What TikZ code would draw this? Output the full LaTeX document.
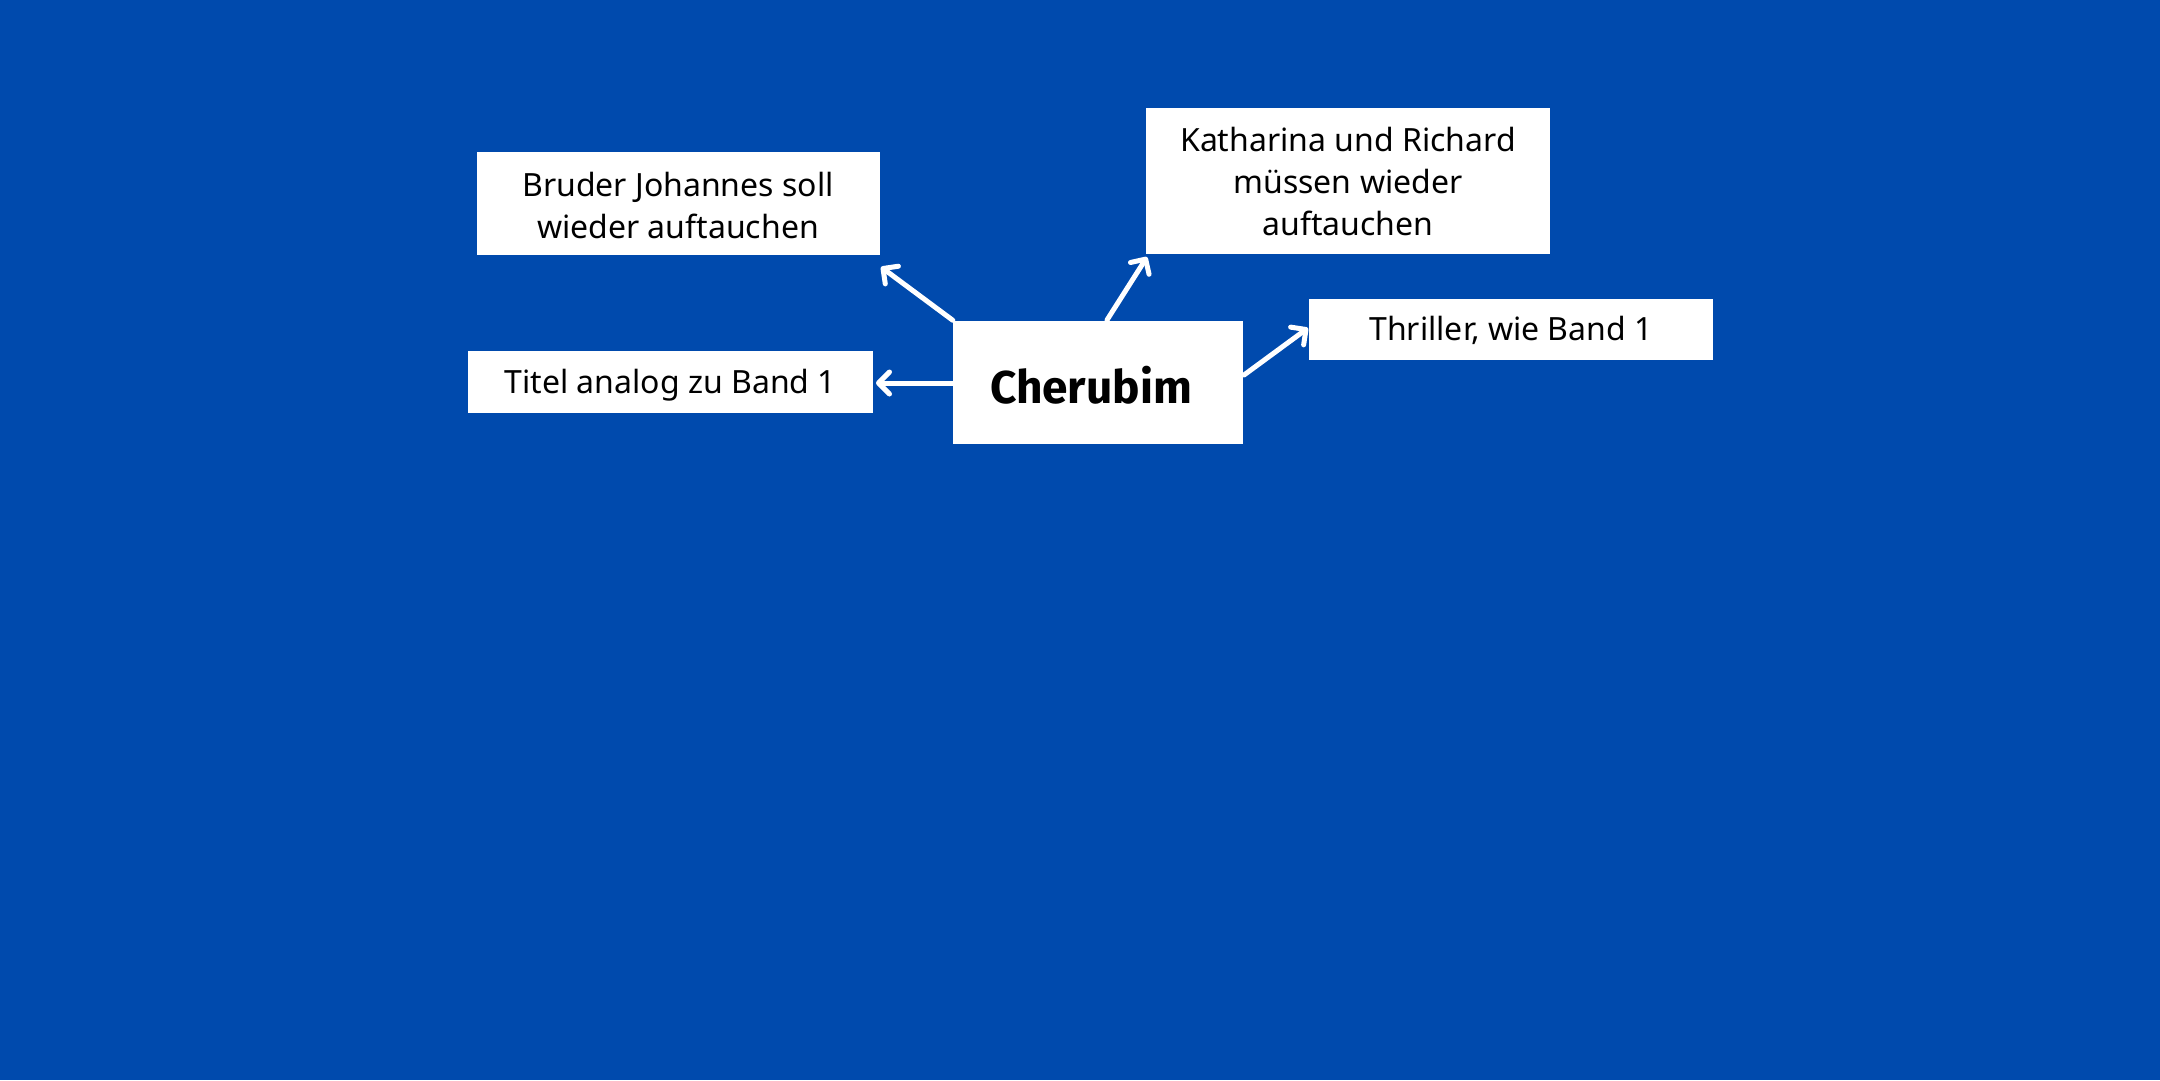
\documentclass[tikz,border=0pt]{standalone}
\usepackage{fontspec}
\setmainfont{Noto Sans}
\newfontfamily\cherfont{Fira Sans}
\usetikzlibrary{arrows.meta}
\definecolor{bg}{RGB}{0,74,173}
\tikzset{
  box/.style={fill=white, draw=none, inner sep=0pt, align=center, text=black,
    font=\fontsize{32}{42}\selectfont},
  arr/.style={draw=white, line width=5pt, line cap=round,
    -{Straight Barb[length=11pt,width=22pt,round]}}
}
\newcommand{\lowerby}[2]{\raisebox{-#1}[\height][\depth]{#2}}
\begin{document}
\begin{tikzpicture}[x=1pt,y=-1pt]
\fill[bg] (0,0) rectangle (2160,1080);
\useasboundingbox (0,0) rectangle (2160,1080);
\node[box, minimum width=403pt, minimum height=103pt] (bru) at (678,203.5) {\lowerby{2pt}{\parbox{403pt}{\centering Bruder Johannes soll\\wieder auftauchen}}};
\node[box, minimum width=404pt, minimum height=146pt] (kat) at (1348,181) {Katharina und Richard\\müssen wieder\\auftauchen};
\node[box, minimum width=404pt, minimum height=61pt] (thr) at (1511,329) {\lowerby{1.5pt}{Thriller, wie Band 1}};
\node[box, minimum width=405pt, minimum height=62pt] (tit) at (670.5,382) {\lowerby{3pt}{Titel analog zu Band 1}};
\node[box, minimum width=290pt, minimum height=123pt, font=\cherfont\fontsize{46}{50}\selectfont\bfseries] (cher) at (1098,382) {\hspace*{-14pt}\lowerby{3pt}{Cherubim}};
\coordinate (t1) at (881,267);
\coordinate (t2) at (1147,257);
\coordinate (t3) at (876,383);
\coordinate (t4) at (1308,328);
\coordinate (s2) at (1107,320);
\coordinate (s3) at (953,383);
\coordinate (s4) at (1244,375);
\draw[arr] (cher.north west) -- (t1);
\draw[arr] (s2) -- (t2);
\draw[arr] (s3) -- (t3);
\draw[arr] (s4) -- (t4);
\end{tikzpicture}
\end{document}
